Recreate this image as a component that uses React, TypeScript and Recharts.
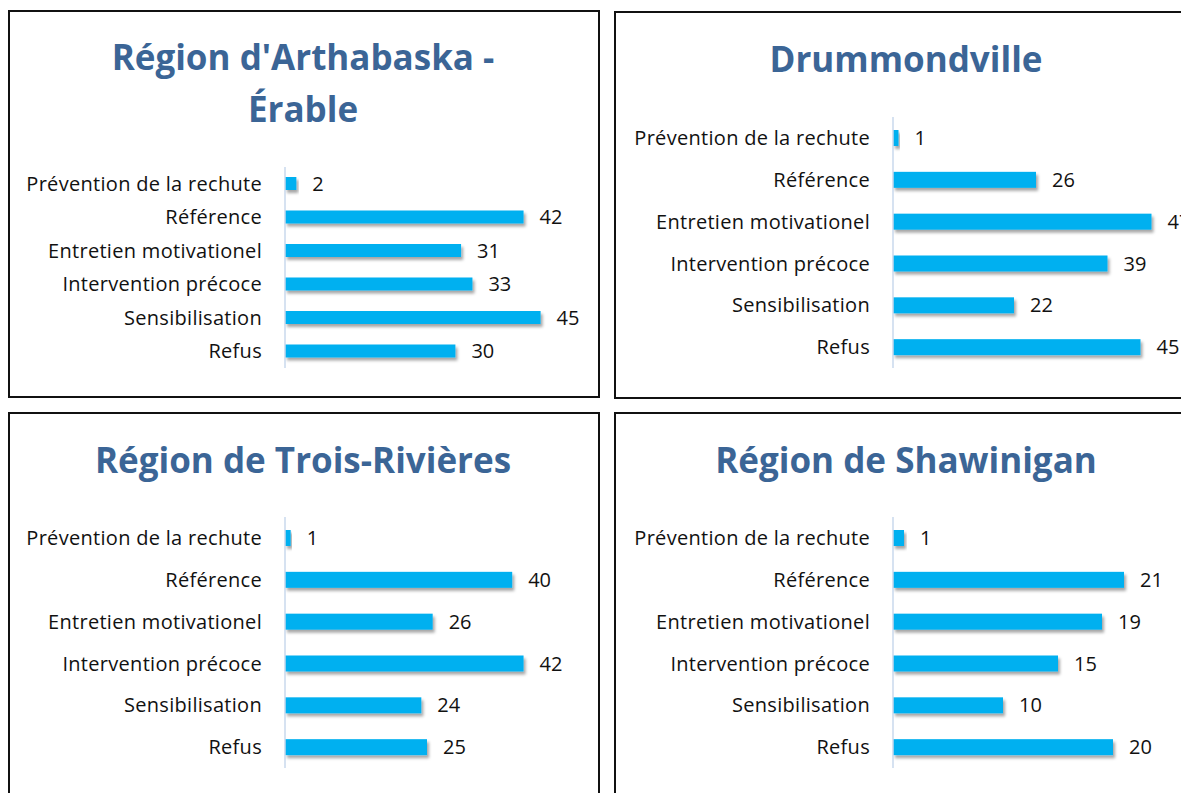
import { BarChart, Bar, XAxis, YAxis, LabelList } from "recharts";

const categories = [
  "Prévention de la rechute",
  "Référence",
  "Entretien motivationel",
  "Intervention précoce",
  "Sensibilisation",
  "Refus",
];

const arthabaskaValues = [2, 42, 31, 33, 45, 30];
const drummondvilleValues = [1, 26, 47, 39, 22, 45];
const troisRivieresValues = [1, 40, 26, 42, 24, 25];
const shawiniganValues = [1, 21, 19, 15, 10, 20];

const FONT = "'Open Sans', 'Noto Sans', sans-serif";
const BAR_COLOR = "#00B0F0";
const TITLE_COLOR = "#3B6596";

type Margin = { top: number; right: number; bottom: number; left: number };

type PanelProps = {
  left: number;
  top: number;
  title: string[];
  titleTop: number;
  titleShift: number;
  values: number[];
  max: number;
  margin: Margin;
  axisWidth: number;
  barSize: number;
};

const ShadowBar = (props: any) => {
  const { x, y, width, height } = props;
  if (!width || width <= 0) return null;
  return <rect x={x} y={y} width={width} height={height} fill={BAR_COLOR} filter="url(#barShadow)" />;
};

function Panel({ left, top, title, titleTop, titleShift, values, max, margin, axisWidth, barSize }: PanelProps) {
  const data = categories.map((name, i) => ({ name, value: values[i] }));
  return (
    <div
      style={{
        position: "absolute",
        left,
        top,
        width: 592,
        height: 388,
        boxSizing: "border-box",
        border: "2px solid #111",
        background: "#fff",
      }}
    >
      <div
        style={{
          position: "absolute",
          top: titleTop,
          left: titleShift,
          width: 588,
          textAlign: "center",
          color: TITLE_COLOR,
          fontFamily: FONT,
          fontWeight: 700,
          fontSize: 35,
          lineHeight: "52px",
        }}
      >
        {title.map((t) => (
          <div key={t}>{t}</div>
        ))}
      </div>
      <BarChart width={588} height={384} data={data} layout="vertical" margin={margin}>
        <XAxis type="number" domain={[0, max]} hide />
        <YAxis
          type="category"
          dataKey="name"
          width={axisWidth}
          tickLine={false}
          tickSize={0}
          tickMargin={23}
          axisLine={{ stroke: "#C9D8EC", strokeWidth: 1.5 }}
          tick={{ fill: "#111", fontSize: 20, fontFamily: FONT, letterSpacing: 0.3 }}
          interval={0}
        />
        <Bar dataKey="value" barSize={barSize} shape={ShadowBar} isAnimationActive={false}>
          <LabelList
            dataKey="value"
            position="right"
            offset={16}
            style={{ fill: "#111", fontSize: 20, fontFamily: FONT }}
          />
        </Bar>
      </BarChart>
    </div>
  );
}

export default function App() {
  return (
    <div style={{ position: "relative", width: 1181, height: 785, overflow: "hidden" }}>
      <svg width={0} height={0} style={{ position: "absolute" }}>
        <defs>
          <filter id="barShadow" x="-10%" y="-40%" width="130%" height="200%">
            <feDropShadow dx={2} dy={3} stdDeviation={1.6} floodColor="#000" floodOpacity={0.35} />
          </filter>
        </defs>
      </svg>
      <Panel
        left={0}
        top={2}
        title={["Région d'Arthabaska -", "Érable"]}
        titleTop={19}
        titleShift={-1}
        values={arthabaskaValues}
        max={50}
        margin={{ top: 155, right: 29, bottom: 28, left: 0 }}
        axisWidth={275}
        barSize={13}
      />
      <Panel
        left={606}
        top={3}
        title={["Drummondville"]}
        titleTop={20}
        titleShift={-4}
        values={drummondvilleValues}
        max={50}
        margin={{ top: 104, right: 36, bottom: 29, left: 0 }}
        axisWidth={277}
        barSize={16}
      />
      <Panel
        left={0}
        top={404}
        title={["Région de Trois-Rivières"]}
        titleTop={20}
        titleShift={-1}
        values={troisRivieresValues}
        max={50}
        margin={{ top: 103, right: 29, bottom: 30, left: 0 }}
        axisWidth={275}
        barSize={16}
      />
      <Panel
        left={606}
        top={404}
        title={["Région de Shawinigan"]}
        titleTop={20}
        titleShift={-4}
        values={shawiniganValues}
        max={25}
        margin={{ top: 103, right: 36, bottom: 30, left: 0 }}
        axisWidth={277}
        barSize={16}
      />
    </div>
  );
}
